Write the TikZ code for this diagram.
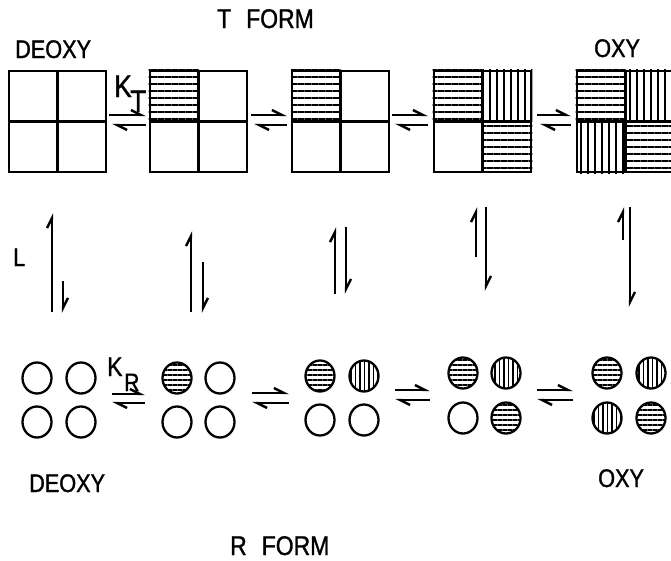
\documentclass[tikz,border=0pt]{standalone}
\usepackage{fontspec}
\setmainfont[FakeStretch=0.85,FakeBold=1.2]{Liberation Sans}
\usetikzlibrary{arrows.meta,patterns.meta,shapes.geometric,calc}

\begin{document}
\begin{tikzpicture}[x=1pt,y=-1pt,
  sq/.style={draw, line width=2.8pt, minimum width=97pt, minimum height=101pt, inner sep=0pt},
  divider/.style={line width=2.5pt},
  hh/.style={pattern={Lines[angle=0,distance=7pt,line width=2.6pt]}},
  vv/.style={pattern={Lines[angle=90,distance=7pt,line width=2.6pt]}},
  ball/.style={draw, ellipse, line width=2.3pt, minimum width=29pt, minimum height=31pt, inner sep=0pt},
  bh/.style={pattern={Lines[angle=0,distance=5pt,line width=2pt]}},
  bv/.style={pattern={Lines[angle=90,distance=4.5pt,line width=1.8pt]}},
  harp/.style={line width=2.4pt, -{Straight Barb[left,length=10pt,width=10pt]}},
  lbl/.style={inner sep=0pt, anchor=base west, font=\fontsize{25.5}{25.5}\selectfont},
  big/.style={inner sep=0pt, anchor=base west, font=\fontsize{27}{27}\selectfont},
]
\useasboundingbox (0,0) rectangle (671,560);

% ---- T form: subunit squares ----
\foreach \i/\cx in {1/57.5, 2/198.5, 3/340.5, 4/482.5, 5/625.5}
  \node[sq] (T\i) at (\cx,121.5) {};

% liganded subunits (hatched quadrants)
\fill[hh] (T2.north west) rectangle (T2.center);
\fill[hh] (T3.north west) rectangle (T3.center);
\fill[hh] (T4.north west) rectangle (T4.center);
\fill[vv] (T4.north) rectangle (T4.east);
\fill[hh] (T4.center) rectangle (T4.south east);
\fill[hh] (T5.north west) rectangle (T5.center);
\fill[vv] (T5.north) rectangle (T5.east);
\fill[vv] (T5.west) rectangle (T5.south);
\fill[hh] (T5.center) rectangle (T5.south east);

\foreach \i in {1,...,5} {
  \draw[divider] (T\i.north) -- (T\i.south);
  \draw[divider] (T\i.west) -- (T\i.east);
}

% ---- R form: subunit circles ----
\foreach \g/\xa/\xb/\ya/\yb in {1/37/81/378/422, 2/177/220/378/422, 3/320/364/376/420,
                                 4/463/506/373/418, 5/607/651/373/418} {
  \coordinate (P\g a) at (\xa,\ya);
  \coordinate (P\g b) at (\xb,\ya);
  \coordinate (P\g c) at (\xa,\yb);
  \coordinate (P\g d) at (\xb,\yb);
}
% group 1
\node[ball] (R1a) at (P1a) {};
\node[ball] (R1b) at (P1b) {};
\node[ball] (R1c) at (P1c) {};
\node[ball] (R1d) at (P1d) {};
% group 2
\node[ball,bh] (R2a) at (P2a) {};
\node[ball] (R2b) at (P2b) {};
\node[ball] (R2c) at (P2c) {};
\node[ball] (R2d) at (P2d) {};
% group 3
\node[ball,bh] (R3a) at (P3a) {};
\node[ball,bv] (R3b) at (P3b) {};
\node[ball] (R3c) at (P3c) {};
\node[ball] (R3d) at (P3d) {};
% group 4
\node[ball,bh] (R4a) at (P4a) {};
\node[ball,bv] (R4b) at (P4b) {};
\node[ball] (R4c) at (P4c) {};
\node[ball,bh] (R4d) at (P4d) {};
% group 5
\node[ball,bh] (R5a) at (P5a) {};
\node[ball,bv] (R5b) at (P5b) {};
\node[ball,bv] (R5c) at (P5c) {};
\node[ball,bh] (R5d) at (P5d) {};

% ---- equilibrium arrows along the T row ----
\foreach \i/\a/\b in {1/109/146, 2/251/287, 3/392/428, 4/537/571} {
  \coordinate (ta\i) at (\a,115);
  \coordinate (tb\i) at (\b,115);
  \coordinate (tc\i) at (\b,125);
  \coordinate (td\i) at (\a+3,125);
  \draw[harp] (ta\i) -- (tb\i);
  \draw[harp] (tc\i) -- (td\i);
}

% ---- equilibrium arrows along the R row ----
\foreach \i/\a/\b/\u/\l in {1/112/145/394/403, 2/252/289/393/403, 3/395/430/390/400, 4/537/573/390/400} {
  \coordinate (ra\i) at (\a,\u);
  \coordinate (rb\i) at (\b,\u);
  \coordinate (rc\i) at (\b,\l);
  \coordinate (rd\i) at (\a,\l);
  \draw[harp] (ra\i) -- (rb\i);
  \draw[harp] (rc\i) -- (rd\i);
}

% ---- T <-> R equilibria (L) ----
\foreach \i/\ux/\ut/\ub/\dx/\dt/\db in {1/52/213/312/63/281/313, 2/191/231/312/203/262/313,
      3/335/227/294/346/227/294, 4/476/207/257/486/207/291, 5/623/207/240/630/207/307} {
  \coordinate (ub\i) at (\ux,\ub);
  \coordinate (ut\i) at (\ux,\ut);
  \coordinate (dt\i) at (\dx,\dt);
  \coordinate (db\i) at (\dx,\db);
  \draw[harp] (ub\i) -- (ut\i);
  \draw[harp] (dt\i) -- (db\i);
}

% ---- labels ----
\node[big] (tform) at (217,28) {T\hspace{15pt}FORM};
\node[lbl] (deoxyT) at (15,58) {DEOXY};
\node[lbl] (oxyT) at (594,57) {OXY};
\node[lbl] (deoxyR) at (29,492) {DEOXY};
\node[lbl] (oxyR) at (598,487) {OXY};
\node[big] (rform) at (230,555) {R\hspace{15pt}FORM};
\node[lbl] (Llab) at (13,266) {L};
\node[inner sep=0pt, anchor=base west, font=\fontsize{31}{31}\selectfont] (KT) at (114,97) {K};
\node[inner sep=0pt, anchor=base west, font=\fontsize{31}{31}\selectfont] (KTs) at (130,112) {T};
\node[inner sep=0pt, anchor=base west, font=\fontsize{27}{27}\selectfont] (KR) at (107,376) {K};
\node[inner sep=0pt, anchor=base west, font=\fontsize{25}{25}\selectfont] (KRs) at (124,391) {R};
\end{tikzpicture}
\end{document}
